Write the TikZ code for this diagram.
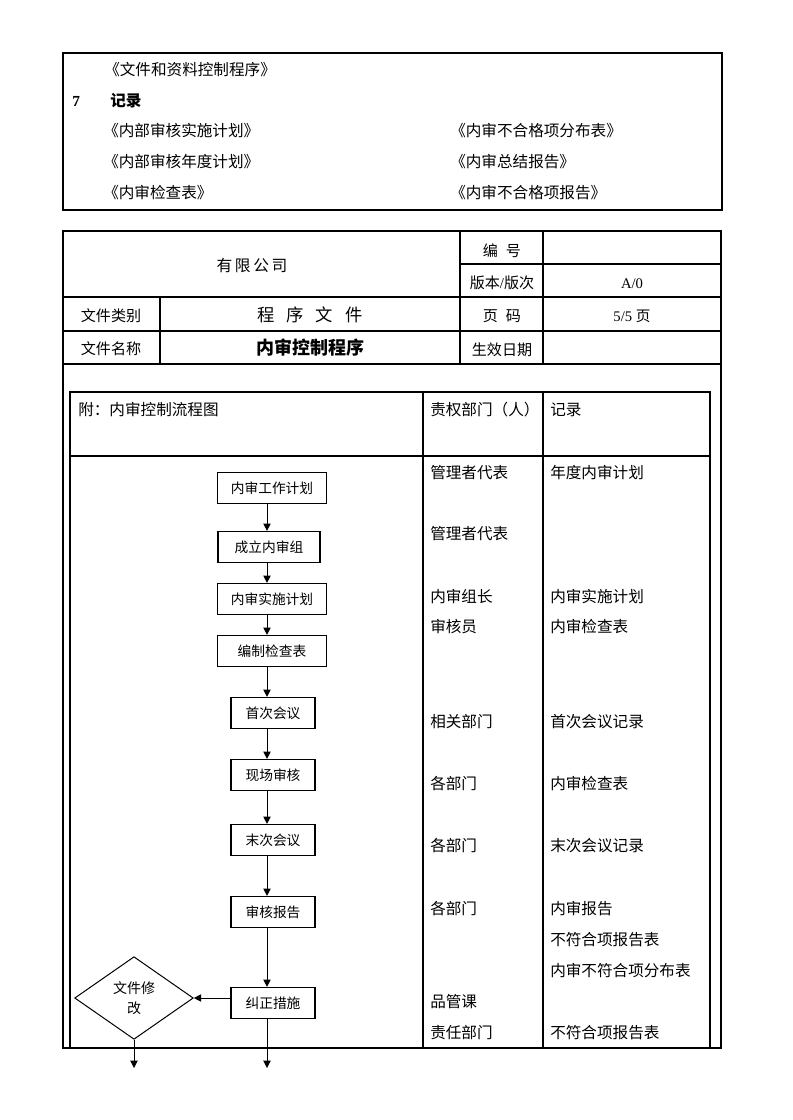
\documentclass[tikz,border=0pt]{standalone}
\usepackage{fontspec}
\setmainfont{Liberation Serif}
\newfontfamily\cjk{Noto Sans CJK SC}
\usepackage{tikz}
\usetikzlibrary{shapes.geometric,arrows.meta}

\begin{document}
\begin{tikzpicture}[x=0.75pt,y=-0.75pt,
  frame/.style={line width=0.8pt},
  txt/.style={font=\cjk\fontsize{11.7}{13}\selectfont,inner sep=0pt,anchor=west},
  cell/.style={font=\cjk\fontsize{11.3}{13}\selectfont,inner sep=0pt},
  stepbox/.style={rectangle,draw,line width=0.9pt,minimum height=23.25pt,
                  font=\cjk\fontsize{10.3}{12}\selectfont,inner sep=0pt},
  flow/.style={line width=0.75pt,-{Triangle[length=5.5pt,width=5.5pt]}}]

\useasboundingbox (0,0) rectangle (792,1120);

%% ---------- records box ----------
\draw[frame] (63,53) rectangle (722,210);
\node[txt] (ref) at (104,70) {《文件和资料控制程序》};
\node[anchor=west,inner sep=0pt,font=\bfseries\fontsize{11.5}{13}\selectfont] (secno) at (72,101) {7};
\node[txt,font=\cjk\bfseries\fontsize{11.7}{13}\selectfont] (sectitle) at (110,101) {记录};
\foreach \i/\l/\r/\y in {1/内部审核实施计划/内审不合格项分布表/131,
                          2/内部审核年度计划/内审总结报告/162,
                          3/内审检查表/内审不合格项报告/193}
{
  \node[txt] (recL\i) at (103,\y) {《\l》};
  \node[txt] (recR\i) at (450,\y) {《\r》};
}

%% ---------- header table ----------
\draw[frame] (63,231) rectangle (721,1048);
\draw[frame] (460,264) -- (721,264);
\foreach \y in {297,331,364}
  \draw[frame] (63,\y) -- (721,\y);
\draw[frame] (160,297) -- (160,364);
\foreach \x in {460,543}
  \draw[frame] (\x,231) -- (\x,364);

\node[cell,font=\cjk\fontsize{11.8}{14}\selectfont] (company) at (252,266)
  {有\hspace{2pt}限\hspace{2pt}公\hspace{2pt}司};
\node[cell] (nolab) at (502,251) {编\hspace{6pt}号};
\node[cell] (verlab) at (502,283) {版本{\rmfamily/}版次};
\node[cell,font=\fontsize{11}{13}\selectfont] (ver) at (632,284) {A/0};
\node[cell] (typelab) at (111,316) {文件类别};
\node[cell,font=\cjk\fontsize{13}{15}\selectfont] (type) at (310,315)
  {程\hspace{9pt}序\hspace{9pt}文\hspace{9pt}件};
\node[cell] (pagelab) at (502,316) {页\hspace{6pt}码};
\node[cell,font=\fontsize{11}{13}\selectfont] (page) at (632,316) {5/5 {\cjk 页}};
\node[cell] (namelab) at (111,349) {文件名称};
\node[cell,font=\cjk\bfseries\fontsize{13.5}{16}\selectfont] (name) at (310,348) {内审控制程序};
\node[cell] (datelab) at (502,350) {生效日期};

%% ---------- flow chart table ----------
\draw[frame] (70,392) rectangle (710,1048);
\draw[frame] (70,456) -- (710,456);
\foreach \x in {423,543}
  \draw[frame] (\x,392) -- (\x,1048);

\node[txt] (flowhead) at (78,410) {附：内审控制流程图};
\node[txt] (depthead) at (430,410) {责权部门（人）};
\node[txt] (rechead) at (550,410) {记录};

% Steps
\node[stepbox,minimum width=81.75pt] (plan)   at (272,488)  {内审工作计划};
\node[stepbox,minimum width=76.5pt]  (group)  at (269,547)  {成立内审组};
\node[stepbox,minimum width=81.75pt] (impl)   at (272,599)  {内审实施计划};
\node[stepbox,minimum width=81.75pt] (list)   at (272,651)  {编制检查表};
\node[stepbox,minimum width=63pt]    (open)   at (273,713)  {首次会议};
\node[stepbox,minimum width=63pt]    (site)   at (273,775)  {现场审核};
\node[stepbox,minimum width=63pt]    (close)  at (273,840)  {末次会议};
\node[stepbox,minimum width=63pt]    (report) at (273,912)  {审核报告};
\node[stepbox,minimum width=63pt]    (fix)    at (273,1003) {纠正措施};
\node[diamond,draw,line width=0.75pt,minimum width=89pt,minimum height=62pt,
      inner sep=0pt,align=center,font=\cjk\fontsize{10.5}{15}\selectfont]
      (chg) at (134,998) {文件修\\改};

% Arrows
\coordinate (axis) at (267,0);
\foreach \a/\b in {plan/group,group/impl,impl/list,list/open,
                   open/site,site/close,close/report,report/fix}
  \draw[flow] (\a.south -| axis) -- (\b.north -| axis);
\draw[flow] (fix.west |- chg.east) -- (chg.east);
\coordinate (out1) at (134,1068);
\coordinate (out2) at (267,1068);
\draw[flow] (chg.south) -- (out1);
\draw[flow] (fix.south -| axis) -- (out2);

% Responsible departments
\foreach \i/\y/\d in {1/473/管理者代表,2/534/管理者代表,3/597/内审组长,
                      4/627/审核员,5/722/相关部门,6/784/各部门,7/846/各部门,
                      8/909/各部门,9/1002/品管课,10/1033/责任部门}
  \node[txt] (dept\i) at (430,\y) {\d};
% Records
\foreach \i/\y/\r in {1/473/年度内审计划,2/597/内审实施计划,3/627/内审检查表,
                      4/722/首次会议记录,5/784/内审检查表,6/846/末次会议记录,
                      7/909/内审报告,8/940/不符合项报告表,9/971/内审不符合项分布表,
                      10/1033/不符合项报告表}
  \node[txt] (rec\i) at (550,\y) {\r};

\end{tikzpicture}
\end{document}
